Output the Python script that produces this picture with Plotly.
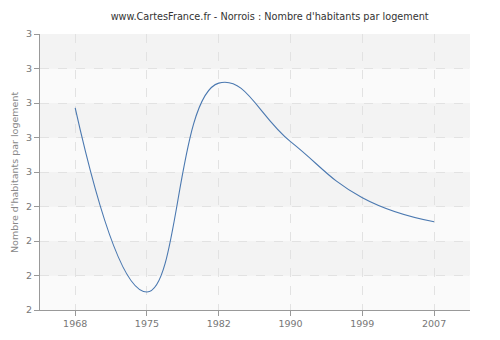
import plotly.graph_objects as go

years = ["1968", "1975", "1982", "1990", "1999", "2007"]
values = [2.732, 2.065, 2.822, 2.610, 2.407, 2.320]
ytick_vals = [2.0, 2.125, 2.25, 2.375, 2.5, 2.625, 2.75, 2.875, 3.0]
ytick_text = ["2", "2", "2", "2", "3", "3", "3", "3", "3"]

x_idx = list(range(len(years)))

fig = go.Figure()
fig.add_trace(go.Scatter(
    x=x_idx, y=values, mode="lines",
    line=dict(color="#4a78b0", width=1.1, shape="spline", smoothing=1.3),
    hoverinfo="skip", showlegend=False,
))

shapes = []
# outer rounded box
shapes.append(dict(
    type="path", xref="paper", yref="paper", layer="below",
    path="M 0.012,0.003 L 0.988,0.003 Q 0.996,0.003 0.996,0.015 L 0.996,0.985 Q 0.996,0.997 0.988,0.997 L 0.012,0.997 Q 0.004,0.997 0.004,0.985 L 0.004,0.015 Q 0.004,0.003 0.012,0.003 Z",
    fillcolor="#efefef", line=dict(color="#dcdcdc", width=1),
))
# alternating bands in plot area
for i in range(len(ytick_vals) - 1):
    shapes.append(dict(
        type="rect", xref="x domain", yref="y", layer="below",
        x0=0, x1=1, y0=ytick_vals[i], y1=ytick_vals[i + 1],
        fillcolor="#f3f3f3" if i % 2 == 1 else "#fafafa",
        line=dict(width=0),
    ))

fig.update_layout(
    width=500, height=340,
    margin=dict(l=40, r=30, t=34, b=30),
    paper_bgcolor="rgba(0,0,0,0)",
    plot_bgcolor="#fafafa",
    shapes=shapes,
    title=dict(
        text="www.CartesFrance.fr - Norrois : Nombre d'habitants par logement",
        x=0.534, xref="paper", xanchor="center", y=0.95, yanchor="middle",
        font=dict(family="DejaVu Sans", size=9.7, color="#333333"),
    ),
    font=dict(family="DejaVu Sans", size=9.5, color="#777777"),
    annotations=[dict(
        text="Nombre d'habitants par logement", textangle=-90,
        xref="paper", yref="paper", x=-0.0605, y=0.5,
        xanchor="center", yanchor="middle", showarrow=False,
        font=dict(family="DejaVu Sans", size=9.5, color="#888888"),
    )],
    xaxis=dict(
        range=[-0.49, 5.5], automargin=False,
        tickmode="array", tickvals=x_idx, ticktext=years,
        showgrid=True, gridcolor="#e2e2e2", griddash="dash", gridwidth=1,
        showline=True, linecolor="#999999", linewidth=1,
        ticks="outside", ticklen=5, tickcolor="#999999",
        zeroline=False, tickfont=dict(size=9.5, color="#777777"),
    ),
    yaxis=dict(
        range=[2.0, 3.0], automargin=False,
        tickmode="array", tickvals=ytick_vals, ticktext=ytick_text,
        showgrid=True, gridcolor="#e2e2e2", griddash="dash", gridwidth=1,
        showline=True, linecolor="#999999", linewidth=1,
        ticks="outside", ticklen=5, tickcolor="#999999",
        zeroline=False, tickfont=dict(size=9.5, color="#777777"),
    ),
)

fig.write_html("out.html")
